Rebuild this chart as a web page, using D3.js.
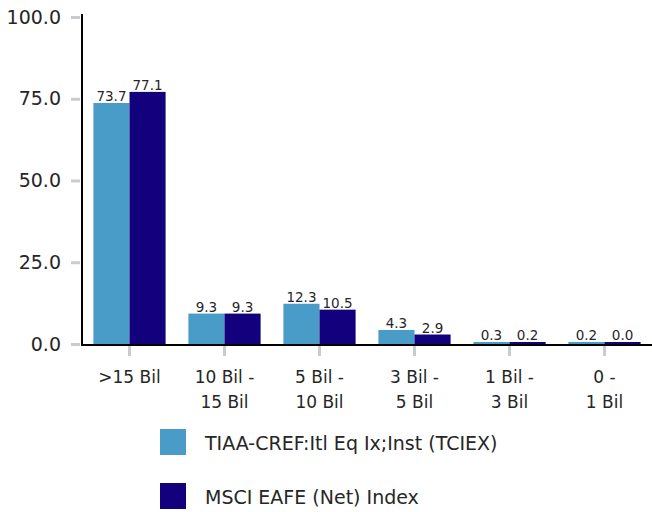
<!DOCTYPE html>
<html>
<head>
<meta charset="utf-8">
<script src="https://cdn.jsdelivr.net/npm/d3@7"></script>
<style>
  body { margin: 0; background: #fff; }
  svg text { font-family: "DejaVu Sans", sans-serif; fill: #262626; }
</style>
</head>
<body>
<div id="chart"></div>
<script>
// categories (two-line labels) and series values
var categories = [">15 Bil", "10 Bil -|15 Bil", "5 Bil -|10 Bil", "3 Bil -|5 Bil", "1 Bil -|3 Bil", "0 -|1 Bil"];
var seriesNames = ["TIAA-CREF:Itl Eq Ix;Inst (TCIEX)", "MSCI EAFE (Net) Index"];
var fundValues = [73.7, 9.3, 12.3, 4.3, 0.3, 0.2];
var indexValues = [77.1, 9.3, 10.5, 2.9, 0.2, 0.0];
var yTicks = [0, 25, 50, 75, 100];
var colors = ["#4a9cc8", "#13007c"];

var width = 652, height = 512;
var plotLeft = 82, plotRight = 652, plotTop = 17, plotBottom = 344;

var svg = d3.select("#chart").append("svg")
    .attr("width", width)
    .attr("height", height);

var x0 = d3.scaleBand()
    .domain(categories)
    .range([plotLeft, plotRight])
    .paddingInner(0.24)
    .paddingOuter(0.12);

var x1 = d3.scaleBand()
    .domain([0, 1])
    .range([0, x0.bandwidth()]);

var y = d3.scaleLinear()
    .domain([0, 100])
    .range([plotBottom, plotTop]);

var series = [fundValues, indexValues];

// bars
var groups = svg.selectAll(".grp")
    .data(categories)
    .enter().append("g")
    .attr("class", "grp")
    .attr("transform", function(d) { return "translate(" + x0(d) + ",0)"; });

groups.each(function(c, i) {
    var g = d3.select(this);
    series.forEach(function(s, k) {
        var v = s[i];
        var h = Math.max(plotBottom - y(v), 2);
        g.append("rect")
            .attr("x", x1(k))
            .attr("y", plotBottom - h)
            .attr("width", x1.bandwidth())
            .attr("height", h)
            .attr("fill", colors[k]);
        g.append("text")
            .attr("x", x1(k) + x1.bandwidth() / 2)
            .attr("y", plotBottom - h - 2)
            .attr("text-anchor", "middle")
            .style("font-size", "13.5px")
            .text(v.toFixed(1));
    });
});

// y axis
var yAxis = d3.axisLeft(y).tickValues(yTicks).tickFormat(d3.format(".1f")).tickSize(9).tickPadding(10);
var ya = svg.append("g")
    .attr("transform", "translate(" + (plotLeft - 2) + ",0)")
    .call(yAxis);
ya.select(".domain").remove();
ya.selectAll(".tick line").attr("stroke", "#c8ccd0").attr("stroke-width", 3);
ya.selectAll(".tick text").style("font-size", "19px").attr("fill", "#262626");

svg.append("line")
    .attr("x1", plotLeft).attr("x2", plotLeft)
    .attr("y1", plotTop - 3).attr("y2", plotBottom + 1)
    .attr("stroke", "#000").attr("stroke-width", 2);

// x axis
var xAxis = d3.axisBottom(x0).tickSize(10).tickFormat("");
var xa = svg.append("g")
    .attr("transform", "translate(0," + (plotBottom + 2) + ")")
    .call(xAxis);
xa.select(".domain").remove();
xa.selectAll(".tick line").attr("stroke", "#c8ccd0").attr("stroke-width", 3);

svg.append("line")
    .attr("x1", plotLeft - 1).attr("x2", plotRight)
    .attr("y1", plotBottom + 1).attr("y2", plotBottom + 1)
    .attr("stroke", "#000").attr("stroke-width", 2);

categories.forEach(function(c) {
    var t = svg.append("text")
        .attr("text-anchor", "middle")
        .style("font-size", "17px");
    c.split("|").forEach(function(line, j) {
        t.append("tspan")
            .attr("x", x0(c) + x0.bandwidth() / 2)
            .attr("y", 383 + j * 25)
            .text(line);
    });
});

// legend
var legend = svg.append("g").attr("transform", "translate(160,429)");
seriesNames.forEach(function(n, k) {
    legend.append("rect")
        .attr("x", 0).attr("y", k * 54)
        .attr("width", 26).attr("height", 26)
        .attr("fill", colors[k]);
    legend.append("text")
        .attr("x", 45).attr("y", k * 54 + 21)
        .style("font-size", "19px")
        .text(n);
});
</script>
</body>
</html>
